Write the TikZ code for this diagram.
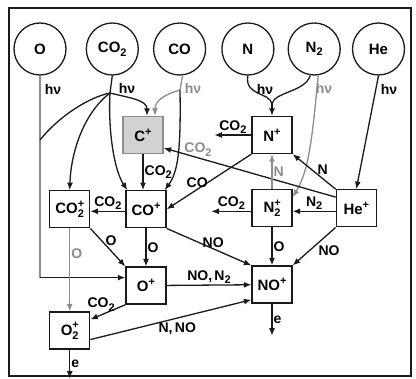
\documentclass[tikz,border=0pt]{standalone}
\usepackage{fontspec}
\setmainfont{Liberation Sans}
\usetikzlibrary{positioning, arrows.meta, calc}
\definecolor{ink}   {HTML}{1A1A1A}
\definecolor{faded} {HTML}{8C8C8C}
\definecolor{shade} {HTML}{D2D2D2}

\newcommand{\subtwo}{\raisebox{-0.45ex}{\fontsize{11}{11}\selectfont 2}}
\newcommand{\ionp}{\raisebox{0.75ex}{\fontsize{11}{11}\selectfont +}}
\newcommand{\ionptwo}{\rlap{\raisebox{0.85ex}{\fontsize{11}{11}\selectfont +}}%
  \raisebox{-0.5ex}{\fontsize{11}{11}\selectfont 2}}

\begin{document}
\begin{tikzpicture}[x=1pt, y=-1pt,
      font=\bfseries\fontsize{15}{15}\selectfont,
      neutral/.style={circle, draw=ink, line width=1.3pt,
                      minimum size=52pt, inner sep=0pt},
      ion/.style ={rectangle, draw=ink, line width=1.3pt, fill=white,
                   minimum width=40pt, minimum height=37pt, inner sep=1pt},
      cion/.style={ion, draw=faded, fill=shade},
      link/.style={line width=1.3pt, draw=ink},
      arr/.style ={link, -{Latex[length=7.5pt, width=6pt]}},
      faint/.style={draw=faded},
      lbl/.style ={inner sep=1pt, font=\bfseries\fontsize{14}{14}\selectfont}]

    \useasboundingbox (0,0) rectangle (416,379);
    \draw[ink, line width=1.4pt] (9,8) rectangle (411,376);

    % neutrals
    \node[neutral] (O) at (40,49) {O};
    \node[neutral, right=19pt of O]   (CO2) {CO\subtwo};
    \node[neutral, right=14pt of CO2] (CO)  {CO};
    \node[neutral, right=15pt of CO]  (N)   {N};
    \node[neutral, right=13pt of N]   (N2)  {N\subtwo};
    \node[neutral, right=11pt of N2]  (He)  {He};

    % ions
    \node[cion] (Cp) at (143,135) {C\ionp};
    \node[ion, below=36pt of Cp, xshift=3pt] (COp) {CO\ionp};
    \node[ion, left=35pt of COp]  (CO2p) {CO\ionptwo};
    \node[ion, below=38pt of COp] (Op)   {O\ionp};
    \node[ion, below=83pt of CO2p] (O2p) {O\ionptwo};
    \node[ion] (Np) at (272,135) {N\ionp};
    \node[ion, below=35pt of Np]  (N2p)  {N\ionptwo};
    \node[ion, right=43pt of N2p] (Hep)  {He\ionp};
    \node[ion, below=38pt of N2p] (NOp)  {NO\ionp};

    % photoionisation
    \node[lbl] (hvO)   at (53,89)  {hν};
    \node[lbl] (hvCO2) at (127,88) {hν};
    \node[lbl, text=faded] (hvCO) at (193,88) {hν};
    \node[lbl] (hvN)   at (265,89) {hν};
    \node[lbl, text=faded] (hvN2) at (324,88) {hν};
    \node[lbl] (hvHe)  at (389,89) {hν};

    \coordinate (Oturn) at ($(O.south |- Op.west)+(0,-8)$);
    \coordinate (Ojoin) at (40,140);
    \draw[link, faint] (O.south) -- (Oturn);
    \draw[arr] (Oturn) -- (Oturn -| Op.west);

    \coordinate (jCO2) at (110,93);
    \draw[link] (CO2.south) -- (jCO2);
    \draw[link] (jCO2) .. controls (90,97) and (60,115) .. (Ojoin);
    \draw[arr] (jCO2) .. controls (85,112) and (71,150) .. (CO2p.north);
    \draw[arr] (jCO2) .. controls (108,130) and (114,170) .. ([xshift=2pt]COp.north west);
    \draw[arr] (jCO2) .. controls (130,98) and (147,100) .. ([xshift=4pt]Cp.north);

    \coordinate (jCO) at (180,90);
    \draw[link, faint] ([xshift=3pt]CO.south) -- (jCO);
    \draw[arr] (jCO) .. controls (181,150) and (178,172) .. ([xshift=-2pt]COp.north east);
    \draw[arr, faint] (jCO) .. controls (166,94) and (155,100) .. ([xshift=12pt]Cp.north);

    \coordinate (jN) at (272,104);
    \draw[link] (N.south) .. controls (244,96) and (270,92) .. (jN);
    \draw[link] ([xshift=-4pt]N2.south) .. controls (305,92) and (274,92) .. (jN);
    \draw[arr] (jN) -- (Np.north);
    \draw[arr, faint] ([xshift=4pt]N2.south) .. controls (312,140) and (309,170)
          .. ([yshift=-8pt]N2p.north east);
    \draw[arr] (He.south) -- (Hep.north);

    % ion chemistry
    \draw[arr] (Np.west) -- node[lbl, above] {CO\subtwo} ++(-37,0) coordinate (NpOut);
    \draw[arr] (Np.south west) -- node[lbl, pos=0.64, above] {CO} (COp.east);
    \draw[arr] ([yshift=-8pt]Hep.north west) -- node[lbl, text=faded, pos=0.8, above] {CO\subtwo}
          ([yshift=-13pt]Cp.east);
    \draw[arr] (Hep.north west) -- node[lbl, pos=0.3, above=2pt] {N} (Np.south east);
    \draw[arr, faint] (N2p.north) -- node[lbl, text=faded, right] {N} (Np.south);
    \draw[arr] ([yshift=-3pt]N2p.west) -- node[lbl, above] {CO\subtwo} ++(-40,0) coordinate (N2pOut);
    \draw[arr] ([yshift=-3pt]Hep.west) -- node[lbl, above] {N\subtwo} ([yshift=-3pt]N2p.east);
    \draw[arr] (Hep.south west) -- node[lbl, pos=0.6, right=7pt] {NO} (NOp.north east);
    \draw[arr] (N2p) -- node[lbl, right] {O} (NOp);
    \draw[arr] (COp.south east) -- node[lbl, pos=0.55, above] {NO} (NOp.north west);
    \draw[arr] (Cp.south) -- node[lbl, right] {CO\subtwo} (Cp.south |- COp.north);
    \draw[arr] (COp) -- node[lbl, right] {O} (Op);
    \draw[arr] (CO2p.south east) -- node[lbl, pos=0.33, right=2pt] {O} (Op.north west);
    \draw[arr] ([yshift=-2pt]COp.west) -- node[lbl, above] {CO\subtwo} ([yshift=-2pt]CO2p.east);
    \draw[arr] (Op) -- node[lbl, above] {NO,\,N\subtwo} (NOp);
    \draw[arr] (Op.south west) -- node[lbl, pos=0.69, above=2pt] {CO\subtwo}
          ([yshift=-8pt]O2p.north east);
    \draw[arr] ([yshift=-9pt]O2p.east) -- node[lbl, pos=0.54, below=3pt] {N,\,NO}
          ([yshift=4pt]NOp.south west);
    \draw[arr, faint] (CO2p) -- node[lbl, text=faded, pos=0.3, right] {O} (O2p);
    \draw[arr] (O2p.south) -- node[lbl, right] {e} ++(0,29) coordinate (O2pOut);
    \draw[arr] (NOp.south) -- node[lbl, right] {e} ++(0,32) coordinate (NOpOut);
  \end{tikzpicture}
\end{document}
